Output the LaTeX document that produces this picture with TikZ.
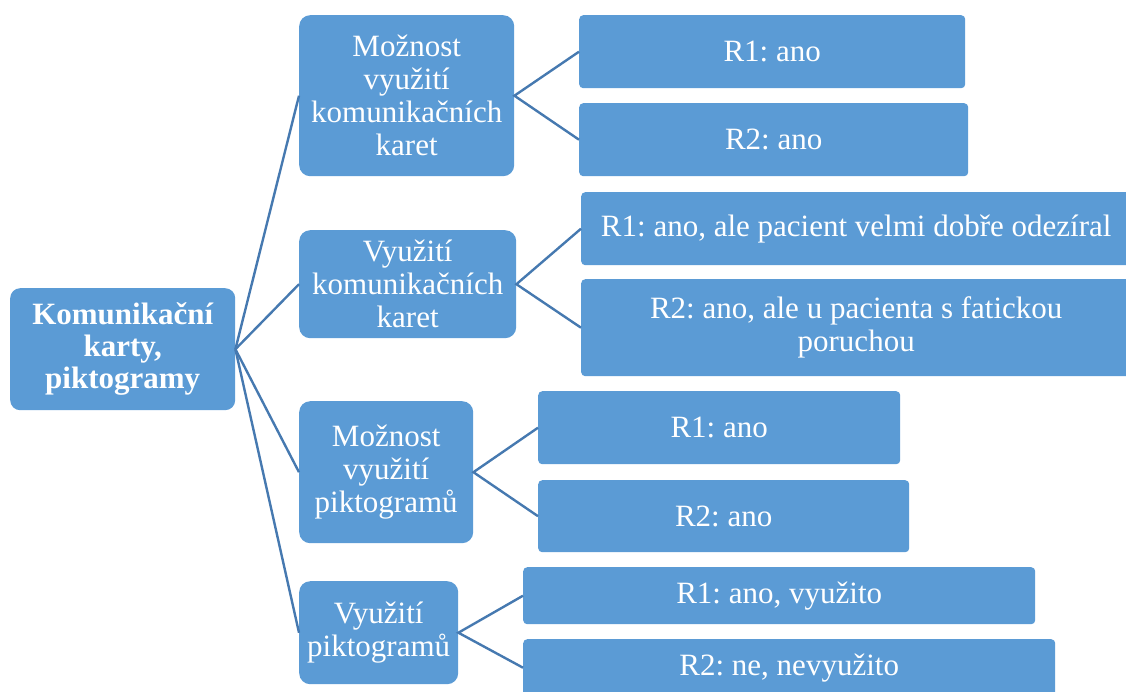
\documentclass[tikz,border=0pt]{standalone}
\usepackage{fontspec}
\setmainfont{Liberation Serif}
\frenchspacing
\definecolor{boxfill}{HTML}{5B9BD5}
\definecolor{linkcol}{HTML}{4679B0}
\begin{document}
\begin{tikzpicture}[x=1pt,y=-1pt,
  box/.style={fill=boxfill, draw=none, text=white, align=center, inner sep=0pt,
    anchor=north west, font=\fontsize{31}{33}\selectfont},
  rootbox/.style={box, rounded corners=10pt, font=\fontsize{31}{32}\selectfont\bfseries},
  midbox/.style={box, rounded corners=11pt},
  leafbox/.style={box, rounded corners=4pt},
  conn/.style={draw=linkcol, line width=2.4pt}]
\useasboundingbox (0,0) rectangle (1126,691);
\clip (0,0) rectangle (1126,691);

% root
\node[rootbox, minimum width=225pt, minimum height=122pt] (root) at (10,288)
  {Komunikační\\karty,\\piktogramy};

% first level
\node[midbox, minimum width=215pt, minimum height=161pt] (a) at (299,15)
  {Možnost\\využití\\komunikačních\\karet};
\node[midbox, minimum width=217pt, minimum height=108pt] (b) at (299,230)
  {Využití\\komunikačních\\karet};
\node[midbox, minimum width=174pt, minimum height=142pt] (c) at (299,401)
  {Možnost\\využití\\piktogramů};
\node[midbox, minimum width=159pt, minimum height=103pt] (d) at (299,581)
  {Využití\\piktogramů};

% answers
\node[leafbox, minimum width=386pt, minimum height=73pt] (a1) at (579,15) {R1: ano};
\node[leafbox, minimum width=389pt, minimum height=73pt] (a2) at (579,103) {R2: ano};
\node[leafbox, minimum width=550pt, minimum height=73pt] (b1) at (581,192)
  {R1: ano, ale pacient velmi dobře odezíral};
\node[leafbox, minimum width=550pt, minimum height=97pt] (b2) at (581,279)
  {R2: ano, ale u pacienta s fatickou\\poruchou};
\node[leafbox, minimum width=362pt, minimum height=73pt] (c1) at (538,391) {R1: ano};
\node[leafbox, minimum width=371pt, minimum height=72pt] (c2) at (538,480) {R2: ano};
\node[leafbox, minimum width=512pt, minimum height=57pt] (d1) at (523,567) {R1: ano, využito};
\node[leafbox, minimum width=532pt, minimum height=57pt] (d2) at (523,639) {R2: ne, nevyužito};

% connectors
\foreach \t in {a,b,c,d} \draw[conn] (root.east) -- (\t.west);
\draw[conn] (a1.west) -- (a.east) -- (a2.west);
\draw[conn] (b1.west) -- (b.east) -- (b2.west);
\draw[conn] (c1.west) -- (c.east) -- (c2.west);
\draw[conn] (d1.west) -- (d.east) -- (d2.west);
\end{tikzpicture}
\end{document}
